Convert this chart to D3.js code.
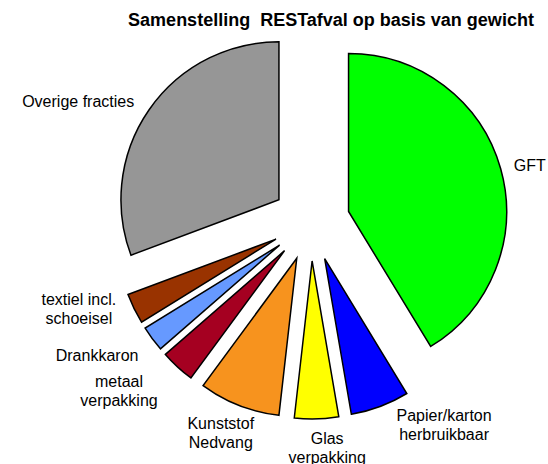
<!DOCTYPE html>
<html>
<head>
<meta charset="utf-8">
<script src="https://cdn.jsdelivr.net/npm/d3@7"></script>
<style>
  body { margin: 0; background: #fff; }
  text { font-family: "Liberation Sans", Arial, sans-serif; fill: #000; }
</style>
</head>
<body>
<div id="chart"></div>
<script>
// categories and shares (% of weight)
const categories = ["GFT", "Papier/karton herbruikbaar", "Glas verpakking", "Kunststof Nedvang",
  "metaal verpakking", "Drankkaron", "textiel incl. schoeisel", "Overige fracties"];
const labelLines = [["GFT"], ["Papier/karton", "herbruikbaar"], ["Glas", "verpakking"], ["Kunststof", "Nedvang"],
  ["metaal", "verpakking"], ["Drankkaron"], ["textiel incl.", "schoeisel"], ["Overige fracties"]];
const shares = [41.3, 6.0, 4.5, 8.3, 3.5, 2.6, 3.1, 30.7];
const colors = ["#00ff00", "#0000ff", "#ffff00", "#f7931e", "#a50021", "#6699ff", "#993300", "#969696"];

// label placement (polar, around the pie centre)
const labelAngle = [75.4, 146.8, 175.9, 203.2, 228.6, 238.1, 249.4, 297.3];
const labelRadius = [226, 243, 226, 229, 256, 252, 248, 262];

const width = 548, height = 464;
const cx = 311, cy = 222, radius = 158, explode = 39;

const svg = d3.select("#chart").append("svg")
  .attr("width", width)
  .attr("height", height);

svg.append("text")
  .attr("x", 331)
  .attr("y", 26)
  .attr("text-anchor", "middle")
  .style("font-size", "18px")
  .style("font-weight", "bold")
  .style("white-space", "pre")
  .text("Samenstelling  RESTafval op basis van gewicht");

const pie = d3.pie().sort(null).value(d => d);
const arcs = pie(shares);
const arc = d3.arc().innerRadius(0).outerRadius(radius);

const g = svg.append("g").attr("transform", `translate(${cx},${cy})`);

g.selectAll(".slice")
  .data(arcs)
  .enter()
  .append("path")
  .attr("class", "slice")
  .attr("transform", d => {
    const mid = (d.startAngle + d.endAngle) / 2;
    return `translate(${Math.sin(mid) * explode},${-Math.cos(mid) * explode})`;
  })
  .attr("d", arc)
  .attr("fill", (d, i) => colors[i])
  .attr("stroke", "#000")
  .attr("stroke-width", 1.5)
  .attr("stroke-linejoin", "miter");

const lineH = 19;
const labels = g.selectAll(".label")
  .data(arcs)
  .enter()
  .append("text")
  .attr("class", "label")
  .attr("text-anchor", "middle")
  .style("font-size", "16px")
  .each(function(d, i) {
    const a = labelAngle[i] * Math.PI / 180;
    const x = Math.sin(a) * labelRadius[i];
    const y = -Math.cos(a) * labelRadius[i];
    const lines = labelLines[i];
    const top = y - (lines.length - 1) * lineH / 2;
    lines.forEach((t, k) => {
      d3.select(this).append("tspan")
        .attr("x", x)
        .attr("y", top + k * lineH)
        .attr("dy", "0.35em")
        .text(t);
    });
  });
</script>
</body>
</html>
